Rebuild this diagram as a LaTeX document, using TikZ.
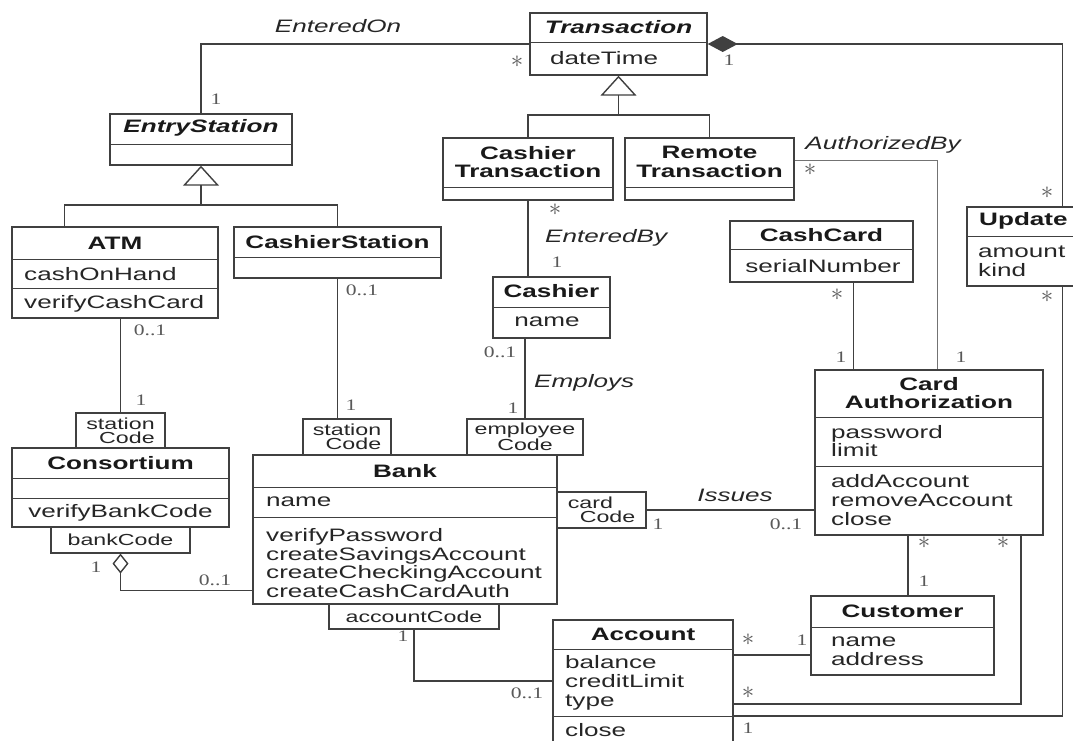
\documentclass[tikz,border=0pt]{standalone}
\usepackage{fontspec}
\setmainfont{Liberation Sans}[FakeStretch=1.45]
\newfontfamily\multfont{Liberation Serif}[FakeStretch=1.35]
\usetikzlibrary{arrows.meta,calc}

\newcommand{\clsfont}{\fontsize{18}{18.7}\selectfont}
\newcommand{\qualfont}{\fontsize{16}{14}\selectfont}
\newcommand{\multsize}{\multfont\fontsize{16}{16}\selectfont}
\newcommand{\many}{{\fontsize{26}{26}\selectfont$\ast$}}

\tikzset{
  cls/.style={draw=black!75, line width=1.4pt, inner sep=0pt},
  sep/.style={draw=black!75, line width=1.2pt},
  qual/.style={draw=black!75, line width=1.2pt, inner sep=0pt, font=\qualfont, text=black!85},
  cname/.style={font=\clsfont\bfseries, align=center, inner sep=0pt, text=black!90},
  attr/.style={font=\clsfont, align=left, inner sep=0pt, text=black!85},
  assoc/.style={font=\clsfont\itshape, inner sep=0pt, text=black!85},
  mult/.style={font=\multsize, inner sep=0pt, text=black!65},
  link/.style={draw=black!75, line width=1.4pt},
  genarrow/.style={-{Triangle[open,length=20pt,width=36pt]}},
}

\begin{document}
\begin{tikzpicture}[x=1pt, y=-1pt]
  \useasboundingbox[fill=white] (0,0) rectangle (1073,740);
  \clip (0,0) rectangle (1073,740);

  % Transaction
  \node[cls, minimum width=177, minimum height=62] (trans) at (618.5,44) {};
  \draw[sep] ($(trans.north west)+(0,30)$) -- ++(177,0);
  \node[cname] (transT) at (618.5,27) {\itshape Transaction};
  \node[attr, anchor=west] (transA) at (550,58) {dateTime};

  % EntryStation
  \node[cls, minimum width=182, minimum height=51] (entry) at (201,139.5) {};
  \draw[sep] ($(entry.north west)+(0,31)$) -- ++(182,0);
  \node[cname] (entryT) at (201,128) {\itshape EntryStation};

  % ATM
  \node[cls, minimum width=206, minimum height=91] (atm) at (115,272.5) {};
  \draw[sep] ($(atm.north west)+(0,33)$) -- ++(206,0);
  \draw[sep] ($(atm.north west)+(0,62)$) -- ++(206,0);
  \node[cname] (atmT) at (115,243) {ATM};
  \node[attr, anchor=west] (atmA) at (24,274) {cashOnHand};
  \node[attr, anchor=west] (atmO) at (24,304) {verifyCashCard};

  % CashierStation
  \node[cls, minimum width=207, minimum height=51] (cstat) at (337.5,252.5) {};
  \draw[sep] ($(cstat.north west)+(0,31)$) -- ++(207,0);
  \node[cname] (cstatT) at (337.5,242) {CashierStation};

  % Cashier Transaction and Remote Transaction
  \node[cls, minimum width=170, minimum height=62] (ctrans) at (528,169) {};
  \draw[sep] ($(ctrans.north west)+(0,50)$) -- ++(170,0);
  \node[cname] (ctransT) at (528,162) {Cashier\\Transaction};
  \node[cls, minimum width=169, minimum height=62] (rtrans) at (709.5,169) {};
  \draw[sep] ($(rtrans.north west)+(0,50)$) -- ++(169,0);
  \node[cname] (rtransT) at (709.5,162) {Remote\\Transaction};

  % Update
  \node[cls, minimum width=200, minimum height=79] (upd) at (1067,246.5) {};
  \draw[sep] ($(upd.north west)+(0,30)$) -- ++(200,0);
  \node[cname, anchor=west] (updT) at (979,221) {Update};
  \node[attr, anchor=west] (updA) at (978,261) {amount\\kind};

  % CashCard
  \node[cls, minimum width=183, minimum height=61] (ccard) at (821.5,251.5) {};
  \draw[sep] ($(ccard.north west)+(0,29)$) -- ++(183,0);
  \node[cname] (ccardT) at (821.5,235) {CashCard};
  \node[attr] (ccardA) at (823,266) {serialNumber};

  % Cashier
  \node[cls, minimum width=117, minimum height=61] (cashier) at (551.5,307.5) {};
  \draw[sep] ($(cashier.north west)+(0,31)$) -- ++(117,0);
  \node[cname] (cashierT) at (551.5,291) {Cashier};
  \node[attr] (cashierA) at (547,322) {name};

  % Card Authorization
  \node[cls, minimum width=228, minimum height=165] (cauth) at (929,452.5) {};
  \draw[sep] ($(cauth.north west)+(0,48)$) -- ++(228,0);
  \draw[sep] ($(cauth.north west)+(0,97)$) -- ++(228,0);
  \node[cname] (cauthT) at (929,393) {Card\\Authorization};
  \node[attr, anchor=west] (cauthA) at (831,441) {password\\limit};
  \node[attr, anchor=west] (cauthO) at (831,500) {addAccount\\removeAccount\\close};

  % Consortium
  \node[cls, minimum width=217, minimum height=79] (cons) at (120.5,487.5) {};
  \draw[sep] ($(cons.north west)+(0,31)$) -- ++(217,0);
  \draw[sep] ($(cons.north west)+(0,51)$) -- ++(217,0);
  \node[cname] (consT) at (120.5,463) {Consortium};
  \node[attr] (consO) at (120.5,513) {verifyBankCode};

  % Bank
  \node[cls, minimum width=304, minimum height=149] (bank) at (405,529.5) {};
  \draw[sep] ($(bank.north west)+(0,33)$) -- ++(304,0);
  \draw[sep] ($(bank.north west)+(0,63)$) -- ++(304,0);
  \node[cname] (bankT) at (405,471) {Bank};
  \node[attr, anchor=west] (bankA) at (266,502) {name};
  \node[attr, anchor=west] (bankO) at (266,563) {verifyPassword\\createSavingsAccount\\createCheckingAccount\\createCashCardAuth};

  % Customer
  \node[cls, minimum width=183, minimum height=79] (cust) at (902.5,635.5) {};
  \draw[sep] ($(cust.north west)+(0,32)$) -- ++(183,0);
  \node[cname] (custT) at (902.5,611) {Customer};
  \node[attr, anchor=west] (custA) at (831,651) {name\\address};

  % Account
  \node[cls, minimum width=180, minimum height=122] (acct) at (643,681) {};
  \draw[sep] ($(acct.north west)+(0,30)$) -- ++(180,0);
  \draw[sep] ($(acct.north west)+(0,97)$) -- ++(180,0);
  \node[cname] (acctT) at (643,634) {Account};
  \node[attr, anchor=west] (acctA) at (565,683) {balance\\creditLimit\\type};
  \node[attr, anchor=west] (acctO) at (565,730) {close};

  % Qualifiers
  \node[qual, minimum width=89, minimum height=35, align=right] (qcons) at (120.5,430.5) {station\\Code};
  \node[qual, minimum width=88, minimum height=36, align=right] (qstat) at (347,437) {station\\Code};
  \node[qual, minimum width=116, minimum height=36, align=center] (qemp) at (525,437) {employee\\Code};
  \node[qual, minimum width=89, minimum height=36, align=left] (qcard) at (601.5,510) {card\\\hspace*{12pt}Code};
  \node[qual, minimum width=139, minimum height=26] (qbank) at (120.5,540) {bankCode};
  \node[qual, minimum width=170, minimum height=25] (qacct) at (414,616.5) {accountCode};

  % Generalizations
  \coordinate (esbar) at (201,205);
  \draw[link, genarrow] (esbar) -- (entry.south);
  \draw[link] ([xshift=53pt]atm.north west) |- (esbar) -| (cstat.north);
  \coordinate (tbar) at (618.5,115);
  \draw[link, genarrow] (tbar) -- (trans.south);
  \draw[link] (ctrans.north) |- (tbar) -| (rtrans.north);

  % EnteredOn
  \draw[link] (entry.north) |- (trans.west);
  \node[assoc] (enteredon) at (338,26) {EnteredOn};
  \node[mult] (m1) at (216,99) {1};
  \node[mult] (m2) at (517,62) {\many};

  % Transaction -- Update (composition)
  \coordinate (updin) at ([xshift=96pt]upd.north west);
  \coordinate (updout) at ([xshift=96pt]upd.south west);
  \draw[link, {Diamond[length=30pt,width=16pt]}-] (trans.east) -| (updin);
  \node[mult] (m3) at (729,60) {1};
  \node[mult] (m4) at (1047,193) {\many};

  % Update -- Account
  \draw[link] (updout) |- ([yshift=-35pt]acct.east);
  \node[mult] (m5) at (1047,297) {\many};
  \node[mult] (m6) at (748,728) {1};

  % AuthorizedBy
  \draw[link, draw=black!55, line width=1pt] ([yshift=9pt]rtrans.east) -| ([xshift=8pt]cauth.north);
  \node[assoc] (authby) at (883,145) {AuthorizedBy};
  \node[mult] (m7) at (810,170) {\many};
  \node[mult] (m8) at (961,357) {1};

  % CashCard -- Card Authorization
  \coordinate (ccdown) at ([xshift=32pt]ccard.south);
  \draw[link] (ccdown) -- (ccdown |- cauth.north);
  \node[mult] (m9) at (837,295) {\many};
  \node[mult] (m10) at (841,357) {1};

  % EnteredBy
  \draw[link] (ctrans.south) -- (ctrans.south |- cashier.north);
  \node[assoc, anchor=west] (enteredby) at (545,238) {EnteredBy};
  \node[mult] (m11) at (555,210) {\many};
  \node[mult] (m12) at (557,262) {1};

  % Employs
  \draw[link] (qemp.north) -- (qemp.north |- cashier.south);
  \node[assoc, anchor=west] (employs) at (534,383) {Employs};
  \node[mult] (m13) at (500,352) {0..1};
  \node[mult] (m14) at (513,408) {1};

  % CashierStation -- Bank
  \draw[link] (cstat.south) -- (cstat.south |- qstat.north);
  \node[mult] (m15) at (362,290) {0..1};
  \node[mult] (m16) at (351,405) {1};

  % ATM -- Consortium
  \draw[link] (qcons.north) -- (qcons.north |- atm.south);
  \node[mult] (m17) at (150,330) {0..1};
  \node[mult] (m18) at (141,400) {1};

  % Consortium -- Bank (aggregation)
  \coordinate (bankagg) at ([yshift=14pt]bank.south west);
  \draw[link, {Diamond[open,length=20pt,width=16pt]}-] (qbank.south) |- (bankagg);
  \node[mult] (m19) at (96,567) {1};
  \node[mult] (m20) at (215,580) {0..1};

  % Bank -- Account
  \draw[link] (qacct.south) |- (acct.west);
  \node[mult] (m21) at (403,636) {1};
  \node[mult] (m22) at (527,693) {0..1};

  % Issues
  \draw[link] (qcard.east) -- (qcard.east -| cauth.west);
  \node[assoc] (issues) at (735,495) {Issues};
  \node[mult] (m23) at (658,524) {1};
  \node[mult] (m24) at (786,524) {0..1};

  % Card Authorization -- Customer
  \coordinate (cacust) at ([xshift=-21pt]cauth.south);
  \draw[link] (cacust) -- (cacust |- cust.north);
  \node[mult] (m25) at (924,543) {\many};
  \node[mult] (m26) at (924,581) {1};

  % Card Authorization -- Account
  \draw[link] ([xshift=92pt]cauth.south) |- ([yshift=-23pt]acct.east);
  \node[mult] (m27) at (1003,543) {\many};
  \node[mult] (m28) at (748,693) {\many};

  % Customer -- Account
  \coordinate (custacct) at ([yshift=-19.5pt]cust.west);
  \draw[link] (custacct) -- (custacct -| acct.east);
  \node[mult] (m29) at (748,640) {\many};
  \node[mult] (m30) at (802,640) {1};
\end{tikzpicture}
\end{document}
